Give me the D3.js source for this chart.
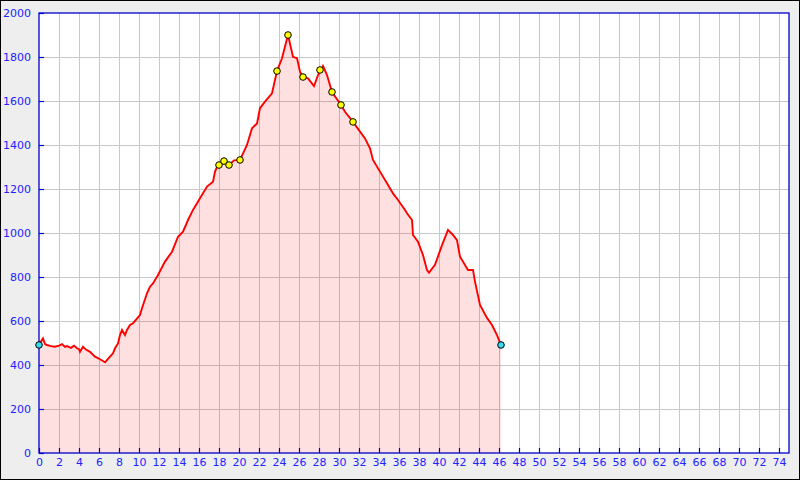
<!DOCTYPE html>
<html><head><meta charset="utf-8">
<script src="https://cdn.jsdelivr.net/npm/d3@7"></script>
<style>
html,body{margin:0;padding:0;background:#eeeeee;}
svg{display:block;}
</style></head>
<body>
<svg id="c" width="800" height="480"></svg>
<script>
const distKm = [0,0.1,0.4,0.6,0.8,1.2,1.6,2.0,2.3,2.6,2.8,3.2,3.5,3.8,4.0,4.1,4.4,4.7,5.1,5.6,6.1,6.4,6.6,7.1,7.4,7.6,7.9,8.1,8.3,8.6,8.8,9.1,9.4,10.1,10.3,10.8,11.1,11.4,11.9,12.6,13.3,13.9,14.4,14.9,15.4,16.1,16.8,17.4,17.6,17.8,18.0,18.5,19.0,19.5,20.1,20.8,21.3,21.8,22.1,22.6,23.3,23.8,24.3,24.9,25.4,25.8,26.1,26.4,26.9,27.5,27.9,28.4,28.8,29.3,30.2,30.6,31.4,32.1,32.6,33.1,33.4,34.1,34.8,35.4,35.9,36.6,36.8,37.3,37.4,37.9,38.4,38.8,39.0,39.6,40.3,40.9,41.4,41.8,42.1,42.9,43.4,43.6,44.1,44.8,45.3,45.8,46.2];
const elevation = [491,500,521,495,491,486,483,488,495,482,486,478,488,476,472,460,483,470,460,438,426,418,412,438,453,476,498,536,559,536,559,582,590,627,658,726,756,771,809,870,915,983,1006,1059,1105,1158,1211,1233,1279,1300,1309,1327,1309,1330,1332,1400,1476,1498,1567,1597,1635,1736,1794,1900,1801,1794,1733,1709,1703,1668,1718,1760,1718,1641,1582,1551,1505,1461,1430,1385,1332,1279,1226,1180,1150,1105,1090,1059,991,960,900,832,820,855,945,1014,991,968,892,832,832,779,673,614,582,536,491];
const waypointKm = [18.0,18.5,19.0,20.1,23.8,24.9,26.4,28.1,29.3,30.2,31.4];
const waypointElev = [1309,1327,1309,1332,1736,1900,1709,1741,1641,1582,1505];
const endpointKm = [0,46.2];
const endpointElev = [491,491];
const xTicks = d3.range(0,76,2);
const yTicks = d3.range(0,2001,200);

const svg = d3.select("#c");
const L=39,R=789,T=13,B=453;
svg.append("rect").attr("x",0.5).attr("y",0.5).attr("width",799).attr("height",479).attr("fill","#eeeeee").attr("stroke","#000");
svg.append("rect").attr("x",L).attr("y",T).attr("width",R-L).attr("height",B-T).attr("fill","#fff");
const x = d3.scaleLinear().domain([0,75]).range([L,R]);
const y = d3.scaleLinear().domain([0,2000]).range([B,T]);

const g = svg.append("g");
g.selectAll(".vg").data(xTicks.filter(d=>d>0)).enter().append("line")
 .attr("x1",d=>x(d)).attr("x2",d=>x(d)).attr("y1",T).attr("y2",B)
 .attr("stroke","#c8c8c8").attr("stroke-width",1).attr("shape-rendering","crispEdges");
g.selectAll(".hg").data(yTicks.filter(d=>d>0&&d<2000)).enter().append("line")
 .attr("x1",L).attr("x2",R).attr("y1",d=>y(d)).attr("y2",d=>y(d))
 .attr("stroke","#c8c8c8").attr("stroke-width",1).attr("shape-rendering","crispEdges");

const pts = distKm.map((d,i)=>[d,elevation[i]]);
const area = d3.area().x(d=>x(d[0])).y0(y(0)).y1(d=>y(d[1]));
svg.append("path").datum(pts).attr("d",area).attr("fill","rgba(255,0,0,0.12)");
const line = d3.line().x(d=>x(d[0])).y(d=>y(d[1]));
svg.append("path").datum(pts).attr("d",line).attr("fill","none").attr("stroke","#ff0000").attr("stroke-width",1.9).attr("stroke-linejoin","miter");

const xAxis = d3.axisBottom(x).tickValues(xTicks).tickSize(-5).tickPadding(5).tickFormat(d3.format("d"));
const yAxis = d3.axisLeft(y).tickValues(yTicks).tickSize(-5).tickPadding(8).tickFormat(d3.format("d"));
const ax = svg.append("g").attr("transform",`translate(0,${B})`).call(xAxis);
const ay = svg.append("g").attr("transform",`translate(${L},0)`).call(yAxis);
[ax,ay].forEach(a=>{
  a.select(".domain").remove();
  a.selectAll(".tick line").attr("stroke","#0000cc").attr("stroke-width",1.2);
  a.selectAll("text").attr("fill","#2222ff").style("font-family","DejaVu Sans").style("font-size","11px");
});
ax.selectAll("text").attr("dy","0.7em");
svg.append("rect").attr("x",L).attr("y",T).attr("width",R-L).attr("height",B-T)
 .attr("fill","none").attr("stroke","#0000cc").attr("stroke-width",1.3);

svg.selectAll(".wp").data(waypointKm).enter().append("circle")
 .attr("cx",d=>x(d)).attr("cy",(d,i)=>y(waypointElev[i])).attr("r",3.3)
 .attr("fill","#ffff00").attr("stroke","#000").attr("stroke-width",1);
svg.selectAll(".ep").data(endpointKm).enter().append("circle")
 .attr("cx",d=>x(d)).attr("cy",(d,i)=>y(endpointElev[i])).attr("r",3.3)
 .attr("fill","#33ddee").attr("stroke","#000").attr("stroke-width",1);
</script>
</body></html>
